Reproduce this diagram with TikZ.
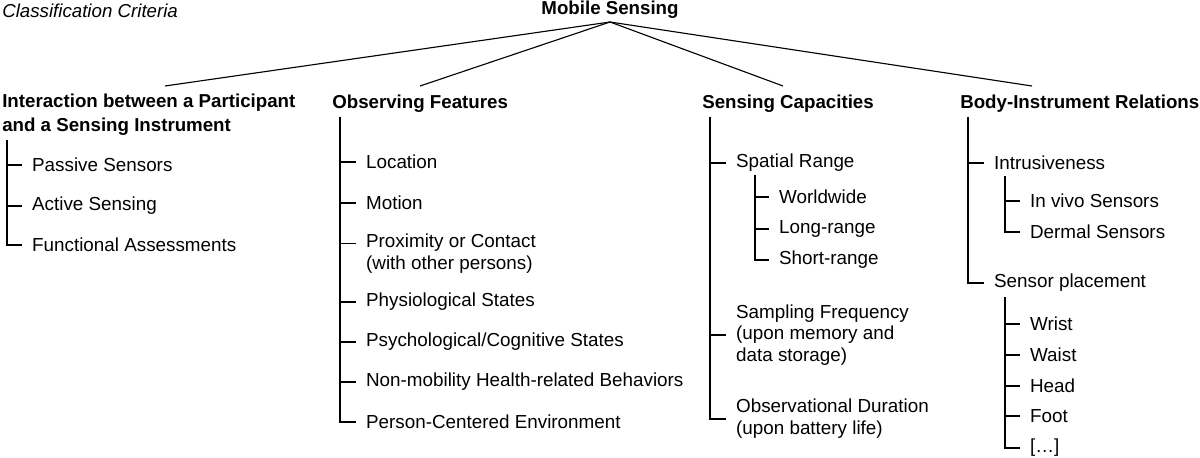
\documentclass[tikz,border=0pt]{standalone}
\usepackage{fontspec}
\setmainfont{Liberation Sans}
\begin{document}
\begin{tikzpicture}[x=0.025cm,y=-0.025cm,
  every node/.style={font=\fontsize{13.4}{15.5}\selectfont},
  head/.style={anchor=west,inner sep=0pt,align=left,font=\fontsize{13.3}{17}\selectfont\bfseries},
  item/.style={anchor=west,inner xsep=7pt,inner ysep=0pt,align=left},
  tree/.style={draw=black,line width=0.8pt}]
	\useasboundingbox (0,0) rectangle (1200,458);
	% root and criteria
	\node[anchor=west,inner sep=0pt,font=\fontsize{13.3}{15}\selectfont\itshape] (crit) at (2,11) {Classification Criteria};
	\node[inner sep=0pt,font=\fontsize{13.3}{15}\selectfont\bfseries] (root) at (610,10) {Mobile Sensing};
	\coordinate (r) at (610,22);
	\coordinate (h1) at (165,86);
	\coordinate (h2) at (420,86);
	\coordinate (h3) at (783,86);
	\coordinate (h4) at (1032,86);
	\foreach \h in {h1,h2,h3,h4}
		\draw[tree] (r) -- (\h);
	% headers
	\node[head] (inter) at (2,115) {Interaction between a Participant\\and a Sensing Instrument};
	\node[head] (obs) at (332,104) {Observing Features};
	\node[head] (cap) at (702,104) {Sensing Capacities};
	\node[head] (body) at (960,104) {Body-Instrument Relations};
	% interaction
	\coordinate (t1) at (7,140);
	\node[item] (pas) at (22,165) {Passive Sensors};
	\node[item] (act) at (22,206) {Active Sensing};
	\node[item] (fun) at (22,245) {Functional Assessments};
	\foreach \n in {pas,act,fun}
		\draw[tree] (t1) |- (\n.west);
	% observing features
	\coordinate (t2) at (340,117);
	\node[item] (loc) at (356,162) {Location};
	\node[item] (mot) at (356,203) {Motion};
	\node[item,anchor=north west] (prox) at (356,234) {Proximity or Contact\\(with other persons)};
	\node[item] (phys) at (356,302) {Physiological States};
	\node[item] (psy) at (356,342) {Psychological/Cognitive States};
	\node[item] (nonm) at (356,382) {Non-mobility Health-related Behaviors};
	\node[item] (env) at (356,422) {Person-Centered Environment};
	\foreach \n in {loc,mot,phys,psy,nonm,env}
		\draw[tree] (t2) |- (\n.west);
	\draw[tree] (t2) |- ([yshift=-6.5pt]prox.north west);
	% sensing capacities
	\coordinate (t3) at (710,117);
	\node[item] (spat) at (726,163) {Spatial Range};
	\node[item] (samp) at (726,335) {Sampling Frequency\\(upon memory and\\data storage)};
	\node[item] (dur) at (726,419) {Observational Duration\\(upon battery life)};
	\foreach \n in {spat,samp,dur}
		\draw[tree] (t3) |- (\n.west);
	\coordinate (t3s) at (755,175);
	\node[item] (world) at (769,197) {Worldwide};
	\node[item] (long) at (769,229) {Long-range};
	\node[item] (short) at (769,260) {Short-range};
	\foreach \n in {world,long,short}
		\draw[tree] (t3s) |- (\n.west);
	% body-instrument relations
	\coordinate (t4) at (968,117);
	\node[item] (intr) at (984,163) {Intrusiveness};
	\node[item] (plac) at (984,283) {Sensor placement};
	\foreach \n in {intr,plac}
		\draw[tree] (t4) |- (\n.west);
	\coordinate (t4a) at (1005,176);
	\node[item] (vivo) at (1020,201) {In vivo Sensors};
	\node[item] (derm) at (1020,232) {Dermal Sensors};
	\foreach \n in {vivo,derm}
		\draw[tree] (t4a) |- (\n.west);
	\coordinate (t4b) at (1005,297);
	\node[item] (wri) at (1020,324) {Wrist};
	\node[item] (wai) at (1020,355) {Waist};
	\node[item] (hea) at (1020,386) {Head};
	\node[item] (foo) at (1020,416) {Foot};
	\node[item] (etc) at (1020,448) {[\dots]};
	\foreach \n in {wri,wai,hea,foo,etc}
		\draw[tree] (t4b) |- (\n.west);
\end{tikzpicture}
\end{document}
